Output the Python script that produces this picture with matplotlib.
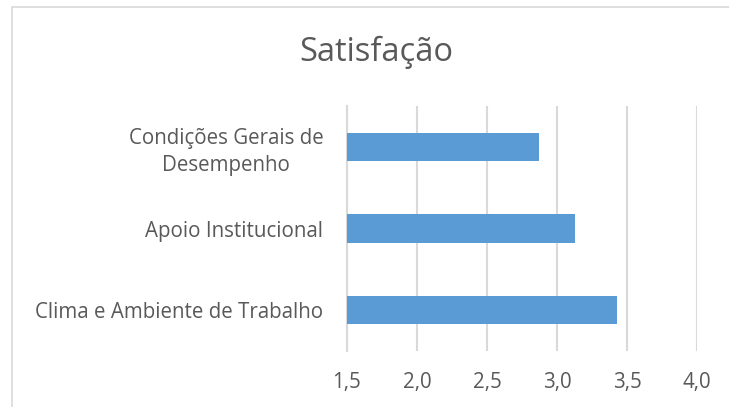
import matplotlib.pyplot as plt
from matplotlib.patches import Rectangle

categorias = ['Clima e Ambiente de Trabalho', 'Apoio Institucional', 'Condições Gerais de\nDesempenho']
valores = [3.43, 3.13, 2.87]
ticks_x = [1.5, 2.0, 2.5, 3.0, 3.5, 4.0]
ticks_x_txt = ['1,5', '2,0', '2,5', '3,0', '3,5', '4,0']

cinza = '#595959'
linha = '#D9D9D9'

plt.rcParams['font.family'] = ['Open Sans', 'DejaVu Sans']

fig = plt.figure(figsize=(7.29, 4.07), dpi=100)
ax = fig.add_axes([347/729, 1 - 351/407, 350/729, 245/407])

pos = list(range(len(categorias)))
ax.barh(pos, valores, height=0.35, left=0, color='#5B9BD5', zorder=3)
ax.set_xlim(1.5, 4.0)
ax.set_ylim(-0.5, 2.5)
ax.set_xticks(ticks_x)
ax.set_xticklabels(ticks_x_txt)
ax.set_yticks(pos)
ax.set_yticklabels(categorias, multialignment='center', linespacing=1.35)
ax.tick_params(axis='both', length=0, colors=cinza, labelsize=14.8)
ax.tick_params(axis='y', pad=17)
ax.tick_params(axis='x', pad=15)
ax.grid(axis='x', color=linha, linewidth=1.5, zorder=0)
for s in ['top', 'right', 'bottom']:
    ax.spines[s].set_visible(False)
ax.spines['left'].set_color(linha)
ax.spines['left'].set_linewidth(1.5)

fig.text(376/729, 1 - 52/407, 'Satisfação', ha='center', va='center', fontsize=23.5, color=cinza)

# borda da área do gráfico
fig.patches.append(Rectangle((12/729, -0.1), 1.1, 1 - 6.5/407 + 0.1, transform=fig.transFigure,
                             fill=False, edgecolor=linha, linewidth=1.2))

fig.savefig('out.png', dpi=100)
